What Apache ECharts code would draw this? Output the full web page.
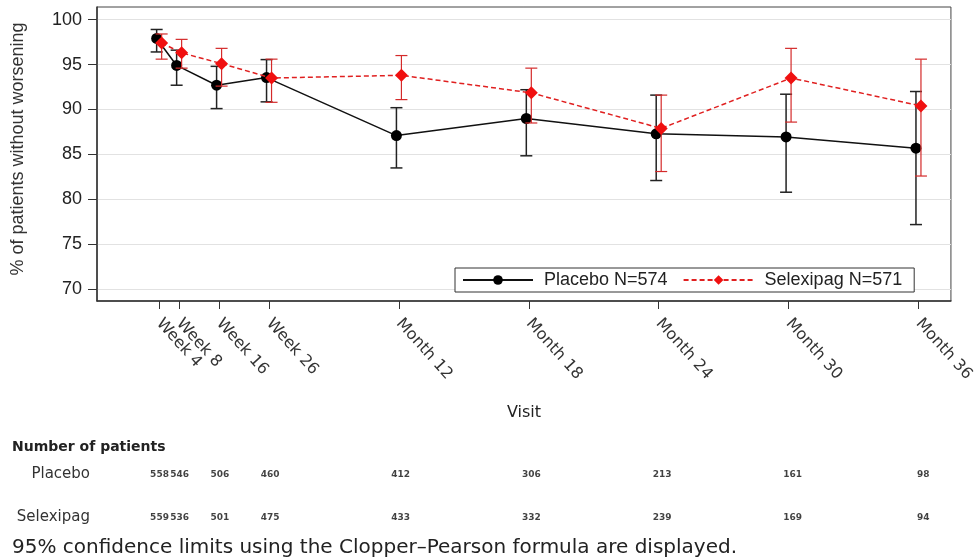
<!DOCTYPE html>
<html><head><meta charset="utf-8">
<script src="https://cdn.jsdelivr.net/npm/echarts@6/dist/echarts.min.js"></script>
<style>html,body{margin:0;padding:0;background:#fff}#c{width:977px;height:559px}</style>
</head><body><div id="c"></div>
<script>
const visitWeeks = [4, 8, 16, 26, 52, 78, 104, 130, 156];
const visitLabels = ['Week 4','Week 8','Week 16','Week 26','Month 12','Month 18','Month 24','Month 30','Month 36'];
const placeboPct  = [97.9, 94.9, 92.7, 93.55, 87.1, 89.0, 87.3, 86.95, 85.7];
const placeboLow  = [96.4, 92.7, 90.1, 90.85, 83.5, 84.85, 82.1, 80.8, 77.2];
const placeboHigh = [98.9, 96.6, 94.8, 95.55, 90.2, 92.2, 91.6, 91.7, 92.0];
const selexipagPct  = [97.4, 96.3, 95.1, 93.5, 93.8, 91.85, 87.9, 93.5, 90.4];
const selexipagLow  = [95.6, 94.6, 92.6, 90.8, 91.1, 88.5, 83.1, 88.6, 82.6];
const selexipagHigh = [98.4, 97.8, 96.8, 95.6, 96.0, 94.6, 91.6, 96.8, 95.6];
const placeboN   = [558, 546, 506, 460, 412, 306, 213, 161, 98];
const selexipagN = [559, 536, 501, 475, 433, 332, 239, 169, 94];
const yTicks = [70, 75, 80, 85, 90, 95, 100];
const groupNames = ['Placebo', 'Selexipag'];
const groupTotals = [574, 571];
const dodge = 0.5;
const xMin = -8.44, xMax = 162.5;

const chart = echarts.init(document.getElementById('c'), null, {renderer: 'canvas'});

function errorBar(color, width) {
  return function (params, api) {
    const x = api.value(0);
    const lo = api.coord([x, api.value(1)]);
    const hi = api.coord([x, api.value(2)]);
    const cap = 6;
    const style = {stroke: color, lineWidth: width};
    return {type: 'group', children: [
      {type: 'line', shape: {x1: lo[0], y1: lo[1], x2: hi[0], y2: hi[1]}, style: style},
      {type: 'line', shape: {x1: lo[0] - cap, y1: lo[1], x2: lo[0] + cap, y2: lo[1]}, style: style},
      {type: 'line', shape: {x1: hi[0] - cap, y1: hi[1], x2: hi[0] + cap, y2: hi[1]}, style: style}
    ]};
  };
}

const labelFor = v => visitLabels[visitWeeks.indexOf(v)] || '';
const legendNames = groupNames.map((n, i) => n + ' N=' + groupTotals[i]);
// a blank first label at the axis start, hidden, so ECharts' min-label overlap rule keeps Week 4 and Week 8
const xLabelValues = [xMin].concat(visitWeeks);

const option = {
  animation: false,
  backgroundColor: '#fff',
  title: [
    {text: 'Number of patients', left: 7, top: 435,
     textStyle: {fontFamily: 'DejaVu Sans', fontSize: 14, fontWeight: 'bold', color: '#222'}},
    {text: '95% confidence limits using the Clopper–Pearson formula are displayed.', left: 7, top: 533,
     textStyle: {fontFamily: 'DejaVu Sans', fontSize: 20, fontWeight: 'normal', color: '#222'}}
  ],
  grid: [
    {left: 97, right: 21, top: 7, bottom: 258, show: true, borderColor: '#444', borderWidth: 1, containLabel: false},
    {left: 97, right: 21, top: 453, height: 86, containLabel: false}
  ],
  legend: {
    data: legendNames,
    left: 455, top: 268,
    orient: 'horizontal',
    padding: [3, 12, 3, 7],
    itemGap: 15,
    itemWidth: 70, itemHeight: 12,
    borderColor: '#333', borderWidth: 1,
    backgroundColor: '#fff',
    textStyle: {fontFamily: 'Liberation Sans', fontSize: 18, color: '#222', padding: [0, 0, 0, 6]}
  },
  xAxis: [
    {type: 'value', gridIndex: 0, min: xMin, max: xMax,
     name: 'Visit', nameLocation: 'middle', nameGap: 104,
     nameTextStyle: {fontFamily: 'DejaVu Sans', fontSize: 16, color: '#222'},
     axisLine: {onZero: false, lineStyle: {color: '#333', width: 1.5}},
     axisTick: {length: 8, lineStyle: {color: '#333'}, customValues: visitWeeks},
     axisLabel: {customValues: xLabelValues, formatter: labelFor, rotate: -48, margin: 20,
                 hideOverlap: false, showMinLabel: false, showMaxLabel: true,
                 fontFamily: 'DejaVu Sans', fontSize: 16, color: '#333'},
     splitLine: {show: false}},
    {type: 'value', gridIndex: 1, min: xMin, max: xMax, show: false}
  ],
  yAxis: [
    {type: 'value', gridIndex: 0, min: 68.7, max: 101.4,
     name: '% of patients without worsening', nameLocation: 'middle', nameGap: 70,
     nameTextStyle: {fontFamily: 'Liberation Sans', fontSize: 18, color: '#333', padding: [0, 0, 0, 10]},
     axisLine: {show: true, onZero: false, lineStyle: {color: '#333', width: 1.5}},
     axisTick: {show: true, length: 9, lineStyle: {color: '#333'}, customValues: yTicks},
     axisLabel: {customValues: yTicks, margin: 15, fontFamily: 'Liberation Sans', fontSize: 18, color: '#222'},
     splitLine: {show: true, lineStyle: {color: '#e2e2e2', width: 1}}},
    {type: 'category', gridIndex: 1, data: groupNames, inverse: true,
     axisLine: {show: false}, axisTick: {show: false},
     axisLabel: {margin: 7, fontFamily: 'DejaVu Sans', fontSize: 15, color: '#333'}}
  ],
  series: [
    {type: 'custom', name: 'Placebo CI', xAxisIndex: 0, yAxisIndex: 0,
     renderItem: errorBar('#222', 1.5), z: 2,
     data: visitWeeks.map((w, i) => [w - dodge, placeboLow[i], placeboHigh[i]])},
    {type: 'line', name: legendNames[0], xAxisIndex: 0, yAxisIndex: 0, z: 3,
     symbol: 'circle', symbolSize: 11,
     itemStyle: {color: '#000'},
     lineStyle: {color: '#111', width: 1.5, type: 'solid'},
     data: visitWeeks.map((w, i) => [w - dodge, placeboPct[i]])},
    {type: 'custom', name: 'Selexipag CI', xAxisIndex: 0, yAxisIndex: 0,
     renderItem: errorBar('#d42a2a', 1.2), z: 4,
     data: visitWeeks.map((w, i) => [w + dodge, selexipagLow[i], selexipagHigh[i]])},
    {type: 'line', name: legendNames[1], xAxisIndex: 0, yAxisIndex: 0, z: 5,
     symbol: 'diamond', symbolSize: 13,
     itemStyle: {color: '#f01010'},
     lineStyle: {color: '#e02020', width: 1.5, type: [5, 3]},
     data: visitWeeks.map((w, i) => [w + dodge, selexipagPct[i]])},
    {type: 'scatter', xAxisIndex: 1, yAxisIndex: 1, symbolSize: 1, itemStyle: {color: 'rgba(0,0,0,0)'},
     label: {show: true, position: 'inside', offset: [5, 0], formatter: p => p.value[2],
             fontFamily: 'DejaVu Sans', fontSize: 9, fontWeight: 'bold', color: '#111'},
     labelLayout: {hideOverlap: false},
     data: visitWeeks.map((w, i) => [w, groupNames[0], placeboN[i]])},
    {type: 'scatter', xAxisIndex: 1, yAxisIndex: 1, symbolSize: 1, itemStyle: {color: 'rgba(0,0,0,0)'},
     label: {show: true, position: 'inside', offset: [5, 0], formatter: p => p.value[2],
             fontFamily: 'DejaVu Sans', fontSize: 9, fontWeight: 'bold', color: '#111'},
     labelLayout: {hideOverlap: false},
     data: visitWeeks.map((w, i) => [w, groupNames[1], selexipagN[i]])}
  ]
};
chart.setOption(option);
</script>
</body></html>
